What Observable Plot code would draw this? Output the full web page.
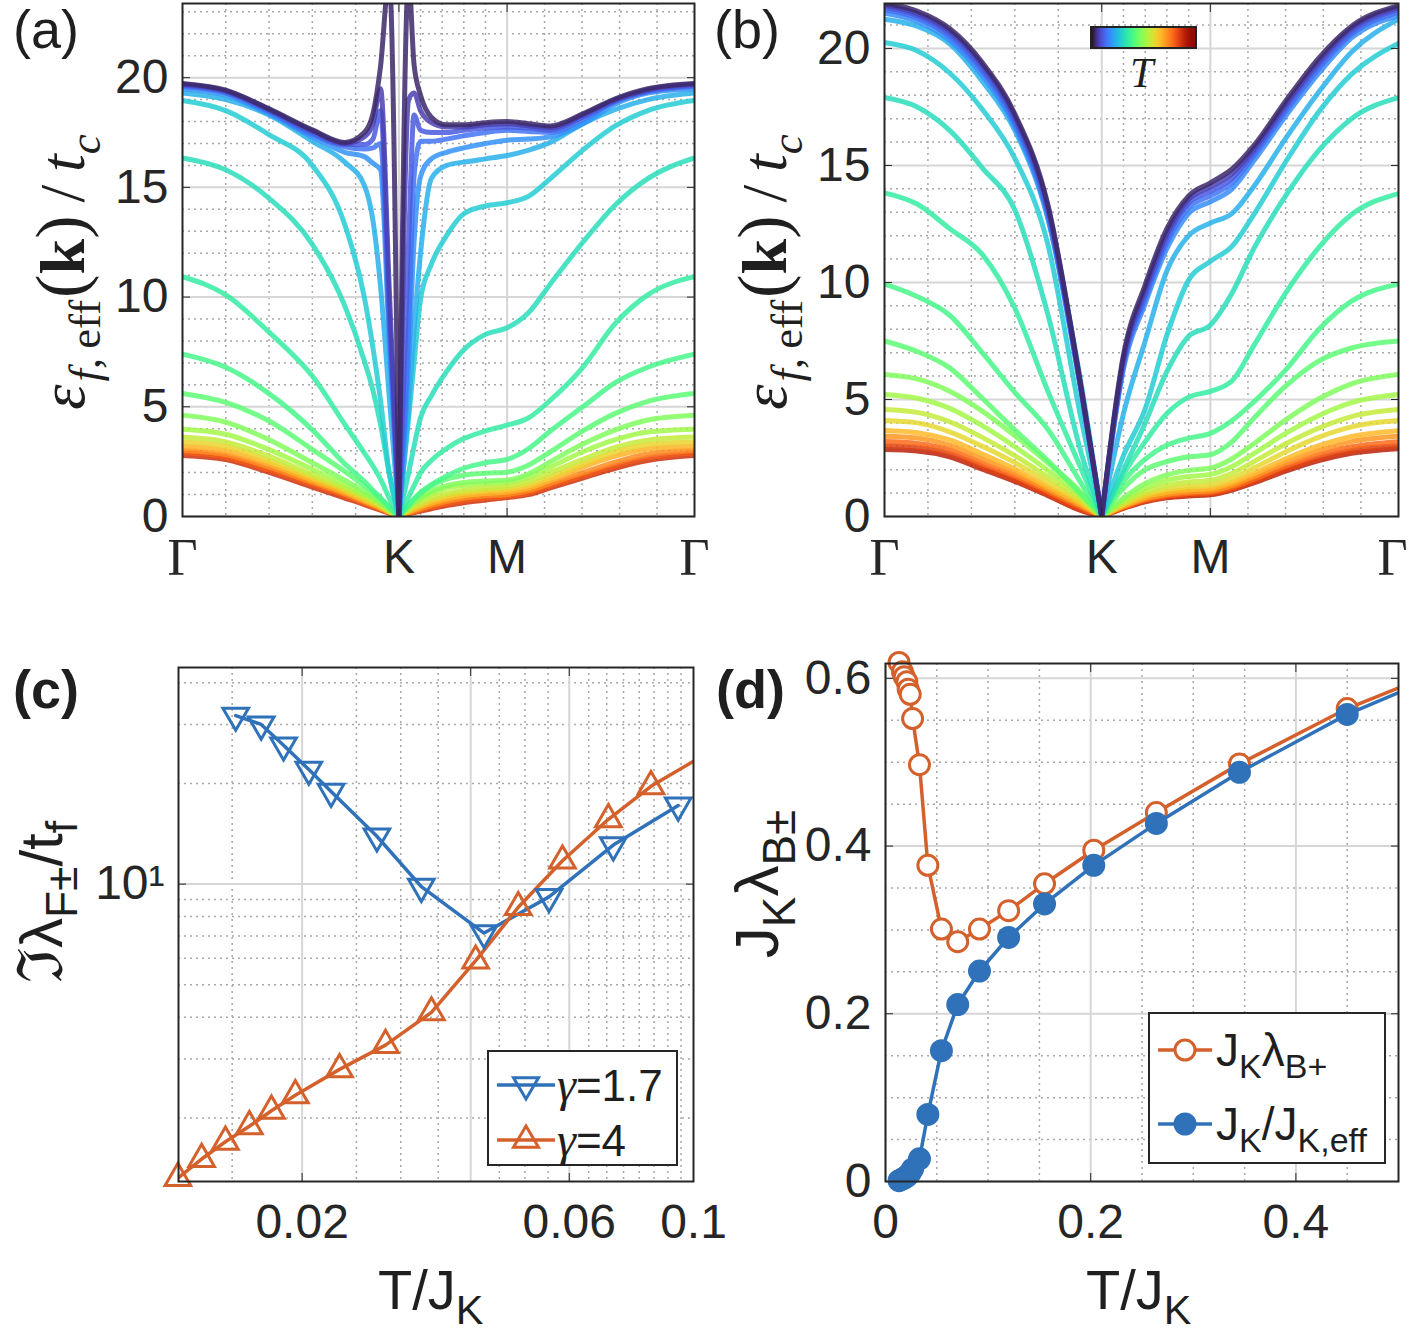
<!DOCTYPE html>
<html>
<head>
<meta charset="utf-8">
<script src="https://cdn.jsdelivr.net/npm/d3@7"></script>
<script src="https://cdn.jsdelivr.net/npm/@observablehq/plot@0.6"></script>
<style>
  html,body{margin:0;padding:0;background:#fff;}
  #page{position:relative;width:1410px;height:1337px;overflow:hidden;background:#fff;
        font-family:"Liberation Sans",Arial,Helvetica,sans-serif;color:#1f1f1f;}
  .t{position:absolute;white-space:nowrap;line-height:1;}
  .rot{transform:translate(-50%,-50%) rotate(-90deg);}
  .ser{font-family:"Liberation Serif","DejaVu Serif",serif;}
  sub{font-size:0.74em;vertical-align:-0.36em;line-height:0;}
  .lg{position:absolute;background:#fff;border:2px solid #262626;box-sizing:border-box;}
  .lg svg{position:absolute;left:0;top:0;}
  .lgt{position:absolute;white-space:nowrap;line-height:1;transform:translateY(-50%);}
</style>
</head>
<body>
<div id="page"></div>
<script>
// ================= DATA =================
// high-symmetry path Γ-K-M-Γ (path length units, Γ-K = 1)
const kPath = [0, 1, 1.5, 2.366];
const kPathLabels = ["Γ", "K", "M", "Γ"];
const kMinor = [0.2, 0.4, 0.6, 0.8, 1.1, 1.2, 1.3, 1.4, 1.673, 1.846, 2.02, 2.193];
const eTicks = [0, 5, 10, 15, 20];

// ---- panel (a): k samples and one curve per temperature (low T -> high T)
const kA = [0, 0.2, 0.4, 0.6, 0.75, 0.84, 0.88, 0.915, 0.955, 1.0, 1.045, 1.07, 1.1, 1.15, 1.22, 1.3, 1.4, 1.5, 1.6, 1.7, 1.85, 2.0, 2.15, 2.366];
const tA = [0, 0.04, 0.08, 0.12, 0.17, 0.22, 0.27, 0.31, 0.35, 0.39, 0.43, 0.48, 0.53, 0.58, 0.64, 0.70, 0.77, 0.84, 0.91];
const a01 = [19.74,19.43,18.58,17.62,17.05,17.5,18.35,20.5,24.5,0,24.5,20.6,19.2,18.2,17.85,17.85,17.95,18.0,17.9,17.8,18.35,19.04,19.5,19.74];
const a02 = [19.7,19.4,18.55,17.58,17.0,17.3,17.9,19.5,10.5,0,19.0,19.3,18.5,17.95,17.75,17.75,17.85,17.9,17.8,17.72,18.3,19.0,19.45,19.7];
const a03 = [19.65,19.35,18.5,17.5,16.95,16.95,17.2,18.5,9.5,0,12.5,18.3,17.6,17.5,17.5,17.6,17.7,17.75,17.7,17.6,18.2,18.95,19.4,19.65];
const a04 = [19.6,19.3,18.45,17.4,16.85,16.75,16.8,17.0,8.8,0,8.5,15.5,17.1,17.1,17.2,17.35,17.5,17.6,17.55,17.5,18.1,18.9,19.35,19.6];
const a05 = [19.5,19.2,18.35,17.3,16.6,16.4,16.1,15.8,8.0,0,7.0,12.5,15.5,16.3,16.6,16.8,17.0,17.15,17.2,17.3,17.9,18.8,19.3,19.5];
const a06 = [19.3,19.0,18.3,17.1,16.15,15.1,13.5,10.5,5.5,0,5.0,8.5,12.0,15.4,16.0,16.15,16.3,16.45,16.7,17.05,17.9,18.55,19.0,19.3];
const a07 = [18.96,18.5,17.4,16.0,13.3,10.0,7.7,5.3,2.0,0,4.5,7.0,9.9,11.5,12.8,13.8,14.15,14.3,14.6,15.4,16.7,17.8,18.5,18.96];
const a08 = [16.34,15.8,14.5,12.4,9.6,7.1,5.75,4.2,2.0,0,2.0,3.2,4.5,5.5,6.6,7.6,8.3,8.6,9.3,10.6,12.5,14.2,15.4,16.34];
const a09 = [10.93,10.1,8.4,6.4,4.2,2.9,2.3,1.7,0.85,0,0.9,1.4,2.0,2.55,3.1,3.55,3.9,4.16,4.5,5.3,6.8,8.8,10.1,10.93];
const a10 = [7.4,6.8,5.6,3.95,2.4,1.6,1.2,0.85,0.45,0,0.5,0.8,1.1,1.45,1.85,2.2,2.45,2.6,3.1,3.9,5.0,6.1,6.8,7.4];
const a11 = [5.61,5.2,4.35,3.05,2.05,1.4,1.1,0.8,0.4,0,0.55,0.8,1.05,1.4,1.7,1.88,1.97,2.02,2.35,2.95,3.9,4.7,5.25,5.61];
const a12 = [4.62,4.3,3.5,2.45,1.65,1.15,0.9,0.65,0.35,0,0.45,0.65,0.85,1.15,1.4,1.55,1.62,1.66,1.95,2.5,3.3,3.95,4.4,4.62];
const a13 = [3.98,3.75,3.05,2.15,1.45,1.0,0.8,0.6,0.3,0,0.4,0.6,0.78,1.05,1.3,1.42,1.5,1.55,1.8,2.25,2.95,3.5,3.85,3.98];
const a14 = [3.62,3.4,2.75,1.9,1.3,0.9,0.7,0.5,0.25,0,0.3,0.45,0.6,0.85,1.05,1.2,1.3,1.38,1.6,2.0,2.6,3.15,3.48,3.62];
const a15 = [3.4,3.2,2.55,1.78,1.2,0.8,0.62,0.45,0.22,0,0.25,0.38,0.5,0.72,0.92,1.07,1.18,1.25,1.45,1.8,2.4,2.95,3.28,3.4];
const a16 = [3.2,3.0,2.4,1.65,1.1,0.72,0.55,0.4,0.2,0,0.2,0.3,0.42,0.6,0.8,0.95,1.05,1.12,1.3,1.65,2.25,2.75,3.08,3.2];
const a17 = [3.02,2.82,2.25,1.55,1.02,0.66,0.5,0.36,0.18,0,0.16,0.24,0.34,0.5,0.68,0.83,0.94,1.0,1.18,1.5,2.0,2.48,2.85,3.02];
const a18 = [2.9,2.7,2.12,1.45,0.94,0.6,0.45,0.33,0.16,0,0.14,0.2,0.3,0.42,0.58,0.72,0.84,0.92,1.08,1.4,1.85,2.32,2.68,2.9];
const a19 = [2.78,2.6,2.01,1.34,0.84,0.54,0.4,0.29,0.15,0,0.12,0.18,0.25,0.35,0.5,0.63,0.75,0.86,1.0,1.3,1.75,2.2,2.55,2.78];

// ---- panel (b)
const kB = [0, 0.15, 0.3, 0.45, 0.6, 0.75, 0.9, 1.0, 1.1, 1.2, 1.3, 1.4, 1.5, 1.6, 1.7, 1.85, 2.0, 2.15, 2.366];
const tB = [0, 0.04, 0.08, 0.12, 0.16, 0.22, 0.27, 0.31, 0.35, 0.39, 0.43, 0.48, 0.53, 0.58, 0.63, 0.69, 0.75, 0.82, 0.88, 0.94];
const b01 = [21.93,21.6,20.85,19.4,17.2,13.4,5.8,0,6.9,9.9,12.3,13.7,14.26,14.85,15.85,17.8,19.6,20.95,21.83];
const b02 = [21.85,21.5,20.75,19.3,17.1,13.3,5.75,0,6.75,9.7,12.1,13.55,14.1,14.65,15.7,17.65,19.45,20.85,21.75];
const b03 = [21.75,21.4,20.62,19.15,16.95,13.15,5.7,0,6.6,9.5,11.9,13.4,13.9,14.45,15.55,17.5,19.3,20.72,21.65];
const b04 = [21.65,21.3,20.5,19.0,16.8,13.0,5.65,0,6.45,9.3,11.7,13.2,13.7,14.25,15.4,17.35,19.15,20.6,21.55];
const b05 = [21.5,21.15,20.35,18.85,16.65,12.85,5.6,0,6.3,9.1,11.45,12.95,13.45,14.0,15.2,17.15,18.95,20.45,21.4];
const b06 = [21.25,20.95,20.2,18.6,16.5,12.8,5.95,0,4.4,7.5,10.5,12.0,12.54,12.95,14.1,16.2,18.15,19.85,21.25];
const b07 = [20.25,19.9,18.95,17.4,15.3,11.7,4.4,0,2.6,4.6,7.75,10.1,10.9,11.55,12.9,15.2,17.3,18.9,20.21];
const b08 = [17.9,17.5,16.5,14.9,13.1,8.7,2.9,0,2.0,4.0,6.2,7.7,8.18,9.55,11.45,13.75,15.65,17.0,17.9];
const b09 = [13.83,13.35,12.3,11.2,8.9,5.4,2.15,0,1.8,3.2,4.4,5.1,5.35,5.8,7.3,9.6,11.5,12.9,13.8];
const b10 = [9.93,9.4,8.6,7.0,5.3,3.75,1.5,0,1.5,2.45,3.05,3.35,3.55,4.1,4.9,6.3,8.0,9.2,9.93];
const b11 = [7.5,7.05,6.35,5.05,3.7,2.4,1.0,0,1.2,2.0,2.35,2.55,2.64,3.2,4.2,5.6,6.65,7.2,7.5];
const b12 = [6.07,5.88,5.35,4.5,3.45,2.3,1.07,0,0.79,1.41,1.78,1.97,2.07,2.47,3.11,4.15,5.03,5.67,6.07];
const b13 = [5.21,5.05,4.62,3.88,2.98,1.98,0.9,0,0.68,1.22,1.55,1.71,1.8,2.14,2.69,3.57,4.32,4.87,5.21];
const b14 = [4.57,4.45,4.05,3.38,2.6,1.7,0.78,0,0.59,1.05,1.33,1.47,1.55,1.85,2.34,3.12,3.78,4.27,4.57];
const b15 = [4.1,4.0,3.62,3.0,2.3,1.48,0.65,0,0.51,0.92,1.16,1.28,1.35,1.63,2.07,2.78,3.39,3.83,4.1];
const b16 = [3.67,3.58,3.27,2.67,2.03,1.28,0.55,0,0.46,0.82,1.03,1.14,1.2,1.45,1.84,2.48,3.03,3.42,3.67];
const b17 = [3.43,3.35,3.05,2.47,1.87,1.17,0.48,0,0.42,0.75,0.95,1.05,1.1,1.33,1.71,2.31,2.82,3.2,3.43];
const b18 = [3.2,3.12,2.85,2.28,1.72,1.07,0.4,0,0.39,0.7,0.89,0.98,1.03,1.25,1.59,2.16,2.64,2.98,3.2];
const b19 = [3.02,2.95,2.69,2.13,1.58,0.95,0.29,0,0.37,0.66,0.83,0.92,0.97,1.18,1.5,2.04,2.49,2.82,3.02];
const b20 = [2.86,2.8,2.55,2.02,1.5,0.9,0.27,0,0.35,0.63,0.8,0.88,0.93,1.13,1.44,1.95,2.39,2.7,2.9];

// ---- panel (c): Im λ_F± / t_f vs T/J_K (log-log)
const cXTicks = [0.02, 0.06, 0.1];
const cXMajor = [0.02, 0.04, 0.06];
const cXMinor = [0.015, 0.025, 0.03, 0.035, 0.045, 0.05, 0.055, 0.065, 0.07, 0.075, 0.08, 0.085, 0.09, 0.095];
const cYTicks = [10];
const cYMinor = [2, 3, 4, 5, 6, 7, 8, 9, 20, 30, 40];
const g17T = [0.01522, 0.0169, 0.01853, 0.02056, 0.02253, 0.0272, 0.03265, 0.04226, 0.0552, 0.0719, 0.0939];
const g17V = [31.9, 30.0, 26.0, 22.0, 18.9, 13.9, 9.83, 7.14, 9.16, 13.08, 17.18];
const g4T = [0.0120, 0.01323, 0.01459, 0.0161, 0.01763, 0.01945, 0.02333, 0.02818, 0.03404, 0.04083, 0.04864, 0.05834, 0.07047, 0.08396, 0.1005];
const g4V = [1.323, 1.508, 1.698, 1.889, 2.102, 2.339, 2.795, 3.302, 4.136, 5.904, 8.53, 11.75, 15.62, 19.6, 23.4];

// ---- panel (d)
const dXTicks = [0, 0.2, 0.4];
const dXMinor = [0.05, 0.1, 0.15, 0.25, 0.3, 0.35, 0.45];
const dYTicks = [0, 0.2, 0.4, 0.6];
const dYMinor = [0.05, 0.1, 0.15, 0.25, 0.3, 0.35, 0.45, 0.5, 0.55];
const dT = [0.0132, 0.0165, 0.0182, 0.0208, 0.0221, 0.0241, 0.0264, 0.0331, 0.0413, 0.0545, 0.0704, 0.0916, 0.120, 0.155, 0.203, 0.264, 0.345, 0.450, 0.585];
const dLambda = [0.619, 0.608, 0.602, 0.596, 0.587, 0.581, 0.552, 0.497, 0.377, 0.301, 0.286, 0.301, 0.323, 0.355, 0.395, 0.440, 0.498, 0.564, 0.630];
const dRatio = [0.001, 0.003, 0.004, 0.006, 0.008, 0.010, 0.015, 0.027, 0.080, 0.156, 0.211, 0.251, 0.291, 0.331, 0.377, 0.427, 0.488, 0.557, 0.627];

// ================= STYLE =================
const INK = "#262626";
const BLUE = "#2f72b9";
const ORANGE = "#d4602b";
const SANS = "'Liberation Sans', Arial, Helvetica, sans-serif";
const SERIF = "'Liberation Serif', 'DejaVu Serif', serif";
const majorGrid = {stroke: "#d6d6d6", strokeOpacity: 1, strokeWidth: 2};
const minorGrid = {stroke: "#a8a8a8", strokeOpacity: 1, strokeWidth: 1.5, strokeDasharray: "2,4"};
const page = document.getElementById("page");

function put(node, left, top) {
  const d = document.createElement("div");
  d.style.cssText = `position:absolute;left:${left}px;top:${top}px;`;
  d.appendChild(node);
  page.appendChild(d);
  return d;
}
function txt(html, css) {
  const d = document.createElement("div");
  d.className = "t";
  d.style.cssText = css;
  d.innerHTML = html;
  page.appendChild(d);
  return d;
}

// ================= PANELS (a), (b) =================
function bandPanel(kArr, rows, tArr, yMax, yMinor, ml, fw, lastDx) {
  const iK = kArr.indexOf(1);
  const data = [];
  for (let i = rows.length - 1; i >= 0; i--)
    rows[i].forEach((v, j) => {
      // each branch (Γ→K and K→Γ) is its own smooth series; K is shared so the cusp stays sharp
      if (j <= iK) data.push({k: kArr[j], e: v, t: tArr[i], s: i * 2});
      if (j >= iK) data.push({k: kArr[j], e: v, t: tArr[i], s: i * 2 + 1});
    });
  return Plot.plot({
    width: 705, height: 600,
    marginLeft: ml, marginRight: 705 - ml - fw, marginTop: 3, marginBottom: 84,
    x: {domain: [kPath[0], kPath[3]]},
    y: {domain: [0, yMax]},
    color: {type: "linear", scheme: "turbo", domain: [-0.03, 1.05]},
    style: {fontFamily: SANS, fontSize: "48px", color: INK, background: "transparent", overflow: "visible"},
    marks: [
      Plot.gridY(yMinor, minorGrid),
      Plot.gridX(kMinor, minorGrid),
      Plot.gridY(eTicks, majorGrid),
      Plot.gridX([kPath[1], kPath[2]], majorGrid),
      Plot.line(data, {x: "k", y: "e", z: "s", stroke: "t", curve: "monotone-x", strokeWidth: 5, strokeOpacity: 0.85, clip: true}),
      Plot.frame({stroke: INK, strokeWidth: 2}),
      Plot.axisY(eTicks, {tickSize: -8, tickPadding: 22, label: null, fontSize: 48}),
      Plot.axisY(eTicks, {anchor: "right", tickSize: -8, tickFormat: () => "", label: null}),
      Plot.axisX([kPath[1], kPath[2]], {tickSize: -8, tickPadding: 30, label: null, fontSize: 48,
        tickFormat: k => kPathLabels[kPath.indexOf(k)]}),
      Plot.axisX([kPath[0]], {tickSize: 0, tickPadding: 22, label: null, fontSize: 52, fontFamily: SERIF,
        tickFormat: k => kPathLabels[kPath.indexOf(k)]}),
      Plot.axisX([kPath[3]], {tickSize: 0, tickPadding: 22, label: null, fontSize: 52, fontFamily: SERIF, dx: lastDx,
        tickFormat: k => kPathLabels[kPath.indexOf(k)]}),
      Plot.axisX([kPath[1], kPath[2]], {anchor: "top", tickSize: -8, tickFormat: () => "", label: null})
    ]
  });
}
const eMinorA = d3.range(1, 24).filter(v => v % 5 !== 0);
const eMinorB = d3.range(1, 22).filter(v => v % 5 !== 0);
put(bandPanel(kA, [a01,a02,a03,a04,a05,a06,a07,a08,a09,a10,a11,a12,a13,a14,a15,a16,a17,a18,a19], tA, 23.38, eMinorA, 182, 512, 0), 0, 0);
put(bandPanel(kB, [b01,b02,b03,b04,b05,b06,b07,b08,b09,b10,b11,b12,b13,b14,b15,b16,b17,b18,b19,b20], tB, 21.92, eMinorB, 179, 514, -6), 705, 0);

// colorbar legend in (b)
const cb = Plot.legend({color: {type: "linear", scheme: "turbo", domain: [0, 1]},
  width: 103, height: 19, marginTop: 0, marginBottom: 0, marginLeft: 0, marginRight: 0,
  ticks: 0, tickSize: 0, label: null});
cb.style.display = "block";
const cbBox = put(cb, 1090, 26);
cbBox.style.cssText += "border:2px solid #222;width:103px;height:19px;overflow:hidden;line-height:0;";
txt("<i>T</i>", `left:1130px;top:52px;font-size:42px;font-family:${SERIF};`);

// ================= PANEL (c) =================
{
  const blue = g17T.map((x, i) => ({x, y: g17V[i]}));
  const orng = g4T.map((x, i) => ({x, y: g4V[i]}));
  const inX = d => d.x <= 0.1;
  const svg = Plot.plot({
    width: 705, height: 717,
    marginLeft: 178, marginRight: 12, marginTop: 47, marginBottom: 156,
    x: {type: "log", domain: [0.01203, 0.1]},
    y: {type: "log", domain: [1.292, 44.4]},
    style: {fontFamily: SANS, fontSize: "48px", color: INK, background: "transparent", overflow: "visible"},
    marks: [
      Plot.gridY(cYMinor, minorGrid),
      Plot.gridX(cXMinor, minorGrid),
      Plot.gridY(cYTicks, majorGrid),
      Plot.gridX(cXMajor, majorGrid),
      Plot.line(blue, {x: "x", y: "y", stroke: BLUE, strokeWidth: 3.5, clip: true}),
      Plot.line(orng, {x: "x", y: "y", stroke: ORANGE, strokeWidth: 3.5, clip: true}),
      Plot.dot(blue, {x: "x", y: "y", symbol: "triangle", rotate: 180, r: 9.5, stroke: BLUE, strokeWidth: 3, fill: "none"}),
      Plot.dot(orng, {filter: inX, x: "x", y: "y", symbol: "triangle", r: 9.5, stroke: ORANGE, strokeWidth: 3, fill: "none"}),
      Plot.frame({stroke: INK, strokeWidth: 2}),
      Plot.axisY(cYTicks, {tickSize: -8, tickPadding: 22, label: null, fontSize: 48, tickFormat: () => "10¹"}),
      Plot.axisY(cYTicks, {anchor: "right", tickSize: -8, tickFormat: () => "", label: null}),
      Plot.axisX(cXTicks, {tickSize: -8, tickPadding: 30, label: null, fontSize: 48, tickFormat: d => d === 0.1 ? "0.1" : d.toFixed(2)}),
      Plot.axisX(cXMajor, {anchor: "top", tickSize: -8, tickFormat: () => "", label: null})
    ]
  });
  put(svg, 0, 620);
}

// ================= PANEL (d) =================
{
  const lam = dT.map((x, i) => ({x, y: dLambda[i]}));
  const rat = dT.map((x, i) => ({x, y: dRatio[i]}));
  const inX = d => d.x <= 0.5;
  const svg = Plot.plot({
    width: 705, height: 717,
    marginLeft: 180, marginRight: 12, marginTop: 43, marginBottom: 156,
    x: {domain: [0, 0.5]},
    y: {domain: [0, 0.6177]},
    style: {fontFamily: SANS, fontSize: "48px", color: INK, background: "transparent", overflow: "visible"},
    marks: [
      Plot.gridY(dYMinor, minorGrid),
      Plot.gridX(dXMinor, minorGrid),
      Plot.gridY(dYTicks, majorGrid),
      Plot.gridX(dXTicks, majorGrid),
      Plot.line(lam, {x: "x", y: "y", stroke: ORANGE, strokeWidth: 3.5, clip: true}),
      Plot.dot(lam, {filter: inX, x: "x", y: "y", r: 10, stroke: ORANGE, strokeWidth: 3, fill: "white"}),
      Plot.line(rat, {x: "x", y: "y", stroke: BLUE, strokeWidth: 3.5, clip: true}),
      Plot.dot(rat, {filter: inX, x: "x", y: "y", r: 10, stroke: BLUE, strokeWidth: 3, fill: BLUE}),
      Plot.frame({stroke: INK, strokeWidth: 2}),
      Plot.axisY(dYTicks, {tickSize: -8, tickPadding: 22, label: null, fontSize: 48, tickFormat: d => d === 0 ? "0" : String(d)}),
      Plot.axisY(dYTicks, {anchor: "right", tickSize: -8, tickFormat: () => "", label: null}),
      Plot.axisX(dXTicks, {tickSize: -8, tickPadding: 30, label: null, fontSize: 48, tickFormat: d => d === 0 ? "0" : String(d)}),
      Plot.axisX(dXTicks, {anchor: "top", tickSize: -8, tickFormat: () => "", label: null})
    ]
  });
  put(svg, 705, 620);
}

// ================= LEGENDS =================
function legend(left, top, w, h, rows, fs) {
  const box = document.createElement("div");
  box.className = "lg";
  box.style.cssText = `left:${left}px;top:${top}px;width:${w}px;height:${h}px;`;
  let svg = `<svg width="${w}" height="${h}">`;
  for (const r of rows) {
    svg += `<line x1="${r.x0}" x2="${r.x1}" y1="${r.y}" y2="${r.y}" stroke="${r.color}" stroke-width="3.5"/>`;
    const cx = (r.x0 + r.x1) / 2;
    if (r.sym === "down") svg += `<path transform="translate(${cx},${r.y})" d="M0,14L12.5,-7.2L-12.5,-7.2Z" fill="none" stroke="${r.color}" stroke-width="3"/>`;
    else if (r.sym === "up") svg += `<path transform="translate(${cx},${r.y})" d="M0,-14L12.5,7.2L-12.5,7.2Z" fill="none" stroke="${r.color}" stroke-width="3"/>`;
    else svg += `<circle cx="${cx}" cy="${r.y}" r="10" fill="${r.fill}" stroke="${r.color}" stroke-width="3"/>`;
  }
  svg += "</svg>";
  box.innerHTML = svg;
  for (const r of rows) {
    const t = document.createElement("div");
    t.className = "lgt";
    t.style.cssText = `left:${r.tx}px;top:${r.y}px;font-size:${fs}px;`;
    t.innerHTML = r.label;
    box.appendChild(t);
  }
  page.appendChild(box);
}
legend(487, 1050, 191, 116, [
  {x0: 8, x1: 66, y: 33, color: BLUE, sym: "down", tx: 68, label: `<i class="ser" style="font-size:48px">γ</i>=1.7`},
  {x0: 8, x1: 66, y: 88, color: ORANGE, sym: "up", tx: 68, label: `<i class="ser" style="font-size:48px">γ</i>=4`}
], 44);
legend(1148, 1012, 238, 152, [
  {x0: 8, x1: 62, y: 36, color: ORANGE, fill: "white", tx: 66, label: `J<sub>K</sub>λ<sub>B+</sub>`},
  {x0: 8, x1: 62, y: 110, color: BLUE, fill: BLUE, tx: 66, label: `J<sub>K</sub>/J<sub>K,eff</sub>`}
], 46);

// ================= TEXT LABELS =================
txt("(a)", "left:13px;top:2px;font-size:54px;");
txt("(b)", "left:714px;top:2px;font-size:54px;");
txt("(c)", "left:13px;top:662px;font-size:54px;font-weight:bold;");
txt("(d)", "left:716px;top:662px;font-size:54px;font-weight:bold;");

const epsLabel = `<i>ε</i><sub style="margin-left:3px;font-size:0.7em"><i>f</i>,&thinsp;eff</sub><span style="font-size:1.1em;margin-left:2px">(</span><b>k</b><span style="font-size:1.1em">)</span>&thinsp;/&thinsp;<i>t</i><sub style="font-size:0.7em"><i>c</i></sub>`;
txt(epsLabel, `left:60px;top:272px;font-size:64px;font-family:${SERIF};`).classList.add("rot");
txt(epsLabel, `left:762px;top:272px;font-size:64px;font-family:${SERIF};`).classList.add("rot");

txt(`<span class="ser" style="font-size:1.05em">ℑ</span>λ<sub>F±</sub>/t<sub>f</sub>`, "left:41px;top:902px;font-size:60px;").classList.add("rot");
txt(`J<sub>K</sub>λ<sub>B±</sub>`, "left:757px;top:884px;font-size:62px;").classList.add("rot");

txt(`T/J<sub>K</sub>`, "left:378px;top:1262px;font-size:56px;");
txt(`T/J<sub>K</sub>`, "left:1086px;top:1262px;font-size:56px;");
</script>
</body>
</html>
